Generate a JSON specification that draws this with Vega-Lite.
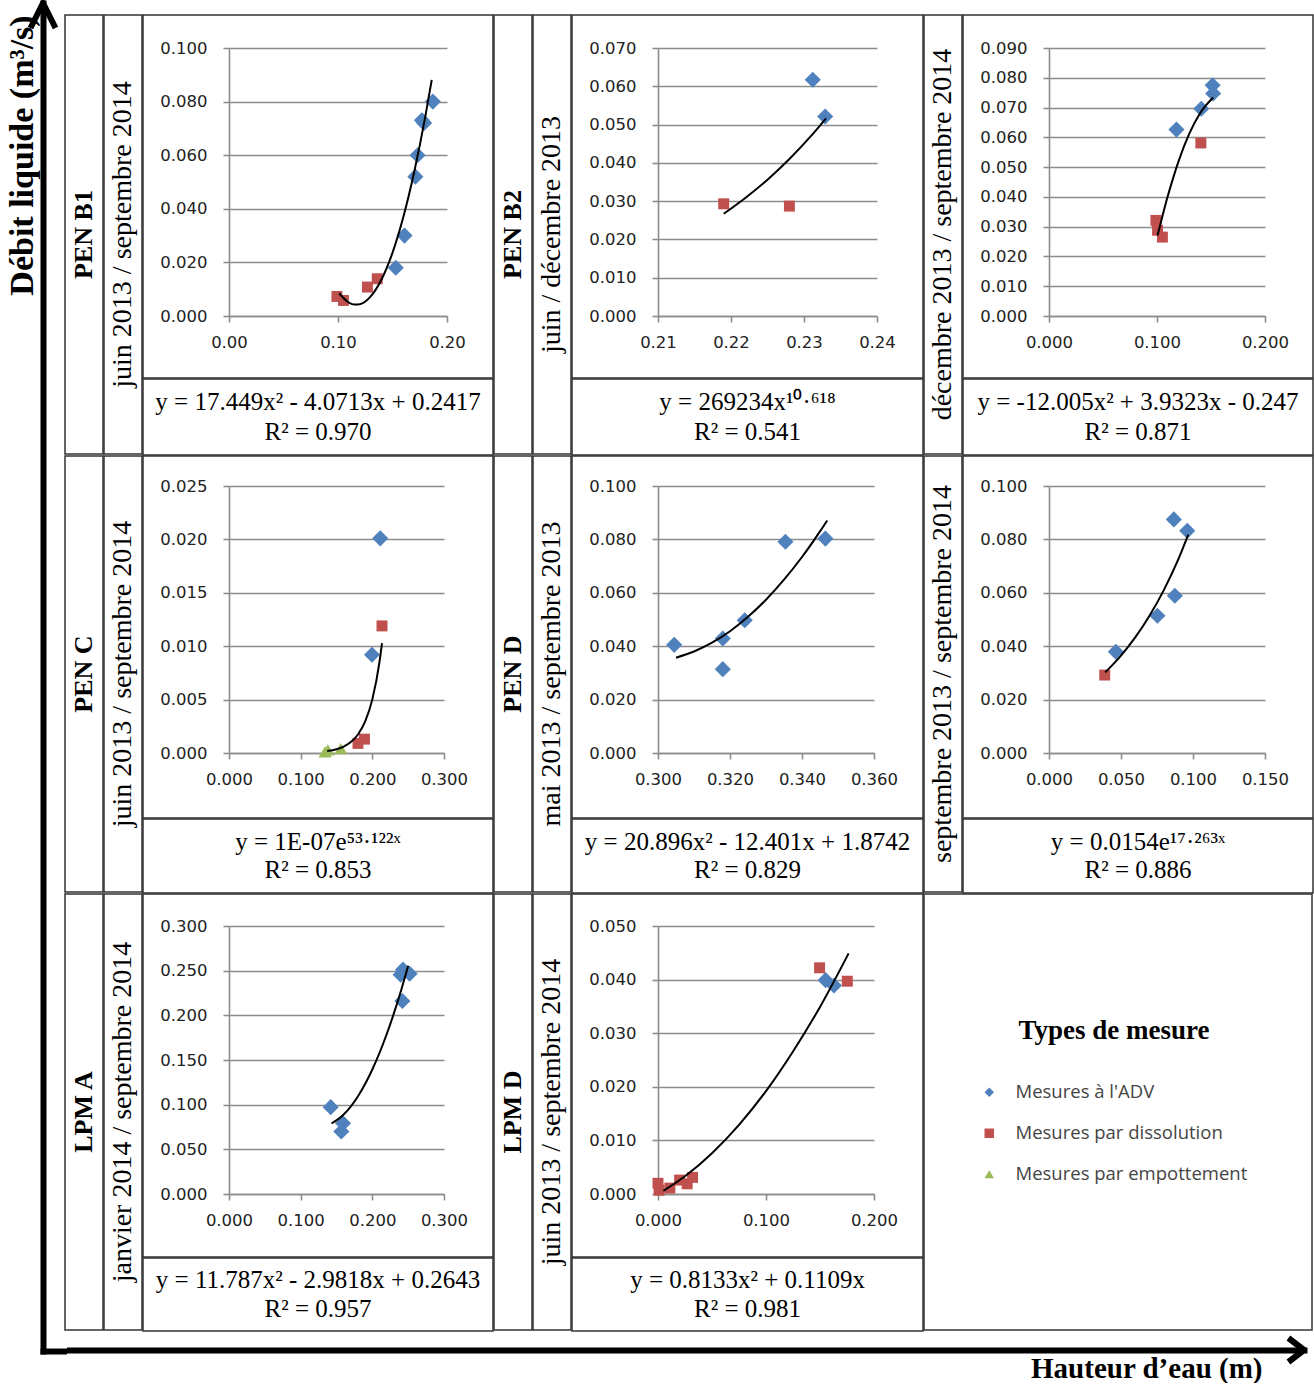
{
"$schema": "https://vega.github.io/schema/vega-lite/v6.json",
"background": "white",
"padding": {"left": 4, "top": 0, "right": 0, "bottom": 0},
"config": {
  "font": "Liberation Serif",
  "view": {"stroke": "#333333", "strokeWidth": 1.5},
  "axis": {"labelFont": "DejaVu Sans", "labelFontSize": 16.5, "labelColor": "#222222", "domainColor": "#8c8c8c", "domainWidth": 1.6, "tickColor": "#8c8c8c", "tickWidth": 1.6, "tickSize": 6, "gridColor": "#8c8c8c", "gridWidth": 1.6, "labelFlush": false, "labelOverlap": false, "labelBound": false},
  "axisX": {"grid": false, "labelPadding": 12},
  "axisY": {"grid": true, "labelPadding": 16},
  "point": {"filled": true, "opacity": 1},
  "line": {"color": "black", "strokeWidth": 2, "interpolate": "monotone"},
  "text": {"font": "Liberation Serif", "color": "black"}
},
"datasets": {
  "pts": [
    {"p":"B1","t":"Mesures à l'ADV","h":0.153,"q":0.018},
    {"p":"B1","t":"Mesures à l'ADV","h":0.161,"q":0.030},
    {"p":"B1","t":"Mesures à l'ADV","h":0.171,"q":0.052},
    {"p":"B1","t":"Mesures à l'ADV","h":0.173,"q":0.060},
    {"p":"B1","t":"Mesures à l'ADV","h":0.177,"q":0.073},
    {"p":"B1","t":"Mesures à l'ADV","h":0.179,"q":0.072},
    {"p":"B1","t":"Mesures à l'ADV","h":0.187,"q":0.080},
    {"p":"B1","t":"Mesures par dissolution","h":0.099,"q":0.0073},
    {"p":"B1","t":"Mesures par dissolution","h":0.105,"q":0.0058},
    {"p":"B1","t":"Mesures par dissolution","h":0.127,"q":0.0108},
    {"p":"B1","t":"Mesures par dissolution","h":0.136,"q":0.0139},
    {"p":"B2a","t":"Mesures à l'ADV","h":0.2312,"q":0.0617},
    {"p":"B2a","t":"Mesures à l'ADV","h":0.2329,"q":0.0521},
    {"p":"B2a","t":"Mesures par dissolution","h":0.219,"q":0.0293},
    {"p":"B2a","t":"Mesures par dissolution","h":0.228,"q":0.0287},
    {"p":"B2b","t":"Mesures à l'ADV","h":0.118,"q":0.0626},
    {"p":"B2b","t":"Mesures à l'ADV","h":0.141,"q":0.0696},
    {"p":"B2b","t":"Mesures à l'ADV","h":0.1515,"q":0.0775},
    {"p":"B2b","t":"Mesures à l'ADV","h":0.152,"q":0.0747},
    {"p":"B2b","t":"Mesures par dissolution","h":0.099,"q":0.0321},
    {"p":"B2b","t":"Mesures par dissolution","h":0.1005,"q":0.0288},
    {"p":"B2b","t":"Mesures par dissolution","h":0.105,"q":0.0265},
    {"p":"B2b","t":"Mesures par dissolution","h":0.1406,"q":0.0581},
    {"p":"C","t":"Mesures à l'ADV","h":0.211,"q":0.0201},
    {"p":"C","t":"Mesures à l'ADV","h":0.1995,"q":0.0092},
    {"p":"C","t":"Mesures par dissolution","h":0.2135,"q":0.0119},
    {"p":"C","t":"Mesures par dissolution","h":0.18,"q":0.0009},
    {"p":"C","t":"Mesures par dissolution","h":0.189,"q":0.0013},
    {"p":"C","t":"Mesures par empottement","h":0.134,"q":0.0001},
    {"p":"C","t":"Mesures par empottement","h":0.138,"q":0.0003},
    {"p":"C","t":"Mesures par empottement","h":0.156,"q":0.0004},
    {"p":"D1","t":"Mesures à l'ADV","h":0.3045,"q":0.0405},
    {"p":"D1","t":"Mesures à l'ADV","h":0.318,"q":0.0429},
    {"p":"D1","t":"Mesures à l'ADV","h":0.318,"q":0.0314},
    {"p":"D1","t":"Mesures à l'ADV","h":0.3241,"q":0.0497},
    {"p":"D1","t":"Mesures à l'ADV","h":0.3354,"q":0.0791},
    {"p":"D1","t":"Mesures à l'ADV","h":0.3465,"q":0.0803},
    {"p":"D2","t":"Mesures à l'ADV","h":0.0464,"q":0.0379},
    {"p":"D2","t":"Mesures à l'ADV","h":0.0753,"q":0.0514},
    {"p":"D2","t":"Mesures à l'ADV","h":0.0874,"q":0.0589},
    {"p":"D2","t":"Mesures à l'ADV","h":0.0867,"q":0.0875},
    {"p":"D2","t":"Mesures à l'ADV","h":0.096,"q":0.0832},
    {"p":"D2","t":"Mesures par dissolution","h":0.0387,"q":0.0292},
    {"p":"LA","t":"Mesures à l'ADV","h":0.1419,"q":0.0972},
    {"p":"LA","t":"Mesures à l'ADV","h":0.1591,"q":0.0792},
    {"p":"LA","t":"Mesures à l'ADV","h":0.1567,"q":0.0699},
    {"p":"LA","t":"Mesures à l'ADV","h":0.2395,"q":0.2455},
    {"p":"LA","t":"Mesures à l'ADV","h":0.2428,"q":0.2511},
    {"p":"LA","t":"Mesures à l'ADV","h":0.2521,"q":0.2466},
    {"p":"LA","t":"Mesures à l'ADV","h":0.2419,"q":0.216},
    {"p":"LD","t":"Mesures à l'ADV","h":0.1552,"q":0.0399},
    {"p":"LD","t":"Mesures à l'ADV","h":0.1629,"q":0.0389},
    {"p":"LD","t":"Mesures par dissolution","h":0.1496,"q":0.0422},
    {"p":"LD","t":"Mesures par dissolution","h":0.1753,"q":0.0397},
    {"p":"LD","t":"Mesures par dissolution","h":0.0,"q":0.002},
    {"p":"LD","t":"Mesures par dissolution","h":0.001,"q":0.0007},
    {"p":"LD","t":"Mesures par dissolution","h":0.011,"q":0.0011},
    {"p":"LD","t":"Mesures par dissolution","h":0.02,"q":0.0026},
    {"p":"LD","t":"Mesures par dissolution","h":0.027,"q":0.0019},
    {"p":"LD","t":"Mesures par dissolution","h":0.032,"q":0.0031}
  ],
  "fit": [
    {"p":"B1","h":0.101,"q":0.0085},{"p":"B1","h":0.11,"q":0.005},{"p":"B1","h":0.115,"q":0.00426},{"p":"B1","h":0.12,"q":0.0044},{"p":"B1","h":0.13,"q":0.0073},{"p":"B1","h":0.14,"q":0.0137},{"p":"B1","h":0.15,"q":0.0236},{"p":"B1","h":0.16,"q":0.037},{"p":"B1","h":0.17,"q":0.0539},{"p":"B1","h":0.18,"q":0.0742},{"p":"B1","h":0.186,"q":0.0881},
    {"p":"B2a","h":0.219,"q":0.0267},{"p":"B2a","h":0.222,"q":0.0309},{"p":"B2a","h":0.225,"q":0.0356},{"p":"B2a","h":0.228,"q":0.041},{"p":"B2a","h":0.231,"q":0.0471},{"p":"B2a","h":0.233,"q":0.0516},
    {"p":"B2b","h":0.1005,"q":0.027},{"p":"B2b","h":0.105,"q":0.0335},{"p":"B2b","h":0.11,"q":0.0403},{"p":"B2b","h":0.115,"q":0.0464},{"p":"B2b","h":0.12,"q":0.052},{"p":"B2b","h":0.13,"q":0.0613},{"p":"B2b","h":0.14,"q":0.0682},{"p":"B2b","h":0.152,"q":0.0734},
    {"p":"C","h":0.137,"q":0.00018},{"p":"C","h":0.15,"q":0.00035},{"p":"C","h":0.16,"q":0.0006},{"p":"C","h":0.17,"q":0.00102},{"p":"C","h":0.18,"q":0.00173},{"p":"C","h":0.19,"q":0.00295},{"p":"C","h":0.2,"q":0.00502},{"p":"C","h":0.21,"q":0.00853},{"p":"C","h":0.2135,"q":0.01029},
    {"p":"D1","h":0.305,"q":0.0357},{"p":"D1","h":0.31,"q":0.038},{"p":"D1","h":0.315,"q":0.0413},{"p":"D1","h":0.32,"q":0.0456},{"p":"D1","h":0.325,"q":0.051},{"p":"D1","h":0.33,"q":0.0574},{"p":"D1","h":0.335,"q":0.0649},{"p":"D1","h":0.34,"q":0.0734},{"p":"D1","h":0.345,"q":0.083},{"p":"D1","h":0.347,"q":0.0871},
    {"p":"D2","h":0.039,"q":0.0302},{"p":"D2","h":0.05,"q":0.0365},{"p":"D2","h":0.06,"q":0.0434},{"p":"D2","h":0.07,"q":0.0516},{"p":"D2","h":0.08,"q":0.0613},{"p":"D2","h":0.09,"q":0.0728},{"p":"D2","h":0.0967,"q":0.0818},
    {"p":"LA","h":0.143,"q":0.0789},{"p":"LA","h":0.16,"q":0.089},{"p":"LA","h":0.18,"q":0.1095},{"p":"LA","h":0.2,"q":0.1394},{"p":"LA","h":0.22,"q":0.1788},{"p":"LA","h":0.24,"q":0.2276},{"p":"LA","h":0.25,"q":0.2555},
    {"p":"LD","h":0.005,"q":0.0006},{"p":"LD","h":0.025,"q":0.0033},{"p":"LD","h":0.05,"q":0.0076},{"p":"LD","h":0.075,"q":0.0129},{"p":"LD","h":0.1,"q":0.0192},{"p":"LD","h":0.125,"q":0.0266},{"p":"LD","h":0.15,"q":0.0349},{"p":"LD","h":0.1765,"q":0.0449}
  ]
},
"spacing": 0,
"resolve": {"scale": {"color": "independent", "shape": "independent", "size": "independent"}, "legend": {"color": "independent", "shape": "independent", "size": "independent"}},
"hconcat": [
  {
    "width": 20.5, "height": 1348,
    "view": {"stroke": null},
    "data": {"values": [{"a": "axe"}]},
    "mark": {"type": "point", "shape": "M -1 2 L 0 0 L 1 2", "size": 625, "filled": false, "stroke": "black", "strokeWidth": 6, "strokeJoin": "round", "opacity": 1},
    "encoding": {
      "x": {"datum": 0, "type": "quantitative", "scale": {"domain": [0, 1]}, "axis": {"title": null, "orient": "bottom", "domainColor": "black", "domainWidth": 6, "domainCap": "square", "ticks": false, "labels": false, "grid": false}},
      "y": {"datum": 1, "type": "quantitative", "scale": {"domain": [0, 1]}, "axis": {"title": "Débit liquide (m³/s)", "orient": "left", "domainColor": "black", "domainWidth": 6, "domainCap": "square", "ticks": false, "labels": false, "grid": false, "titleFont": "Liberation Serif", "titleFontSize": 34, "titleFontWeight": "bold", "titleColor": "black", "titleY": 152, "titleAlign": "center", "titleAngle": 270, "titlePadding": 4}}
    }
  },
  {
    "spacing": -10,
    "resolve": {"scale": {"color": "independent", "shape": "independent", "size": "independent"}, "legend": {"color": "independent", "shape": "independent", "size": "independent"}},
    "vconcat": [
      {
        "spacing": -3,
        "resolve": {"scale": {"color": "independent", "shape": "independent", "size": "independent"}, "legend": {"color": "independent", "shape": "independent", "size": "independent"}},
        "vconcat": [
          {"width": 1247, "height": 11.5, "view": {"stroke": null}, "data": {"values": [{"s": ""}]}, "mark": {"type": "text"}, "encoding": {"text": {"field": "s"}}},
          {
            "spacing": -3,
            "hconcat": [
              {"width": 38, "height": 439, "data": {"values": [{"s": "PEN B1"}]}, "mark": {"type": "text", "angle": 270, "fontWeight": "bold", "fontSize": 26}, "encoding": {"text": {"field": "s"}, "x": {"field": "s", "type": "nominal", "axis": null}, "y": {"field": "s", "type": "nominal", "axis": null}}},
              {"width": 38, "height": 439, "data": {"values": [{"s": "juin 2013 / septembre 2014"}]}, "mark": {"type": "text", "angle": 270, "fontSize": 28}, "encoding": {"text": {"field": "s"}, "x": {"field": "s", "type": "nominal", "axis": null}, "y": {"field": "s", "type": "nominal", "axis": null}}},
              {"spacing": -3, "vconcat": [
                {"width": 350, "height": 363, "layer": [
                  {"data": {"name": "pts"}, "transform": [{"filter": "datum.p == 'B1'"}], "mark": "point",
                   "encoding": {
                     "x": {"field": "h", "type": "quantitative", "title": null, "scale": {"domain": [0, 0.2], "range": [86, 304], "nice": false, "zero": false}, "axis": {"values": [0, 0.1, 0.2], "format": ".2f", "offset": -62}},
                     "y": {"field": "q", "type": "quantitative", "title": null, "scale": {"domain": [0, 0.1], "range": [301, 33], "nice": false, "zero": false}, "axis": {"values": [0, 0.02, 0.04, 0.06, 0.08, 0.1], "format": ".3f", "offset": -86}},
                     "color": {"field": "t", "type": "nominal", "legend": null, "scale": {"domain": ["Mesures à l'ADV", "Mesures par dissolution", "Mesures par empottement"], "range": ["#4F81BD", "#C0504D", "#9BBB59"]}},
                     "shape": {"field": "t", "type": "nominal", "legend": null, "scale": {"domain": ["Mesures à l'ADV", "Mesures par dissolution", "Mesures par empottement"], "range": ["diamond", "square", "triangle-up"]}},
                     "size": {"field": "t", "type": "nominal", "legend": null, "scale": {"type": "ordinal", "domain": ["Mesures à l'ADV", "Mesures par dissolution", "Mesures par empottement"], "range": [260, 120, 170]}}
                   }},
                  {"data": {"name": "fit"}, "transform": [{"filter": "datum.p == 'B1'"}], "mark": "line",
                   "encoding": {"x": {"field": "h", "type": "quantitative", "title": null}, "y": {"field": "q", "type": "quantitative", "title": null}}}
                ]},
                {"width": 350, "height": 76, "data": {"values": [{"k": "1", "l": 1, "e": "y = 17.449x² - 4.0713x + 0.2417"}, {"k": "1", "l": 2, "e": "R² = 0.970"}]}, "mark": {"type": "text", "fontSize": 25}, "encoding": {"text": {"field": "e"}, "x": {"field": "k", "type": "nominal", "axis": null}, "y": {"field": "l", "type": "ordinal", "axis": null, "scale": {"padding": 0.81}}}}
              ]},
              {"width": 38, "height": 439, "data": {"values": [{"s": "PEN B2"}]}, "mark": {"type": "text", "angle": 270, "fontWeight": "bold", "fontSize": 26}, "encoding": {"text": {"field": "s"}, "x": {"field": "s", "type": "nominal", "axis": null}, "y": {"field": "s", "type": "nominal", "axis": null}}},
              {"width": 38, "height": 439, "data": {"values": [{"s": "juin / décembre 2013"}]}, "mark": {"type": "text", "angle": 270, "fontSize": 28}, "encoding": {"text": {"field": "s"}, "x": {"field": "s", "type": "nominal", "axis": null}, "y": {"field": "s", "type": "nominal", "axis": null}}},
              {"spacing": -3, "vconcat": [
                {"width": 351, "height": 363, "layer": [
                  {"data": {"name": "pts"}, "transform": [{"filter": "datum.p == 'B2a'"}], "mark": "point",
                   "encoding": {
                     "x": {"field": "h", "type": "quantitative", "title": null, "scale": {"domain": [0.21, 0.24], "range": [86, 305], "nice": false, "zero": false}, "axis": {"values": [0.21, 0.22, 0.23, 0.24], "format": ".2f", "offset": -62}},
                     "y": {"field": "q", "type": "quantitative", "title": null, "scale": {"domain": [0, 0.07], "range": [301, 33], "nice": false, "zero": false}, "axis": {"values": [0, 0.01, 0.02, 0.03, 0.04, 0.05, 0.06, 0.07], "format": ".3f", "offset": -86}},
                     "color": {"field": "t", "type": "nominal", "legend": null, "scale": {"domain": ["Mesures à l'ADV", "Mesures par dissolution", "Mesures par empottement"], "range": ["#4F81BD", "#C0504D", "#9BBB59"]}},
                     "shape": {"field": "t", "type": "nominal", "legend": null, "scale": {"domain": ["Mesures à l'ADV", "Mesures par dissolution", "Mesures par empottement"], "range": ["diamond", "square", "triangle-up"]}},
                     "size": {"field": "t", "type": "nominal", "legend": null, "scale": {"type": "ordinal", "domain": ["Mesures à l'ADV", "Mesures par dissolution", "Mesures par empottement"], "range": [260, 120, 170]}}
                   }},
                  {"data": {"name": "fit"}, "transform": [{"filter": "datum.p == 'B2a'"}], "mark": "line",
                   "encoding": {"x": {"field": "h", "type": "quantitative", "title": null}, "y": {"field": "q", "type": "quantitative", "title": null}}}
                ]},
                {"width": 351, "height": 76, "data": {"values": [{"k": "1", "l": 1, "e": "y = 269234x¹⁰·⁶¹⁸"}, {"k": "1", "l": 2, "e": "R² = 0.541"}]}, "mark": {"type": "text", "fontSize": 25}, "encoding": {"text": {"field": "e"}, "x": {"field": "k", "type": "nominal", "axis": null}, "y": {"field": "l", "type": "ordinal", "axis": null, "scale": {"padding": 0.81}}}}
              ]},
              {"width": 38, "height": 439, "data": {"values": [{"s": "décembre 2013 / septembre 2014"}]}, "mark": {"type": "text", "angle": 270, "fontSize": 28}, "encoding": {"text": {"field": "s"}, "x": {"field": "s", "type": "nominal", "axis": null}, "y": {"field": "s", "type": "nominal", "axis": null}}},
              {"spacing": -3, "vconcat": [
                {"width": 350, "height": 363, "layer": [
                  {"data": {"name": "pts"}, "transform": [{"filter": "datum.p == 'B2b'"}], "mark": "point",
                   "encoding": {
                     "x": {"field": "h", "type": "quantitative", "title": null, "scale": {"domain": [0, 0.2], "range": [86, 302], "nice": false, "zero": false}, "axis": {"values": [0, 0.1, 0.2], "format": ".3f", "offset": -62}},
                     "y": {"field": "q", "type": "quantitative", "title": null, "scale": {"domain": [0, 0.09], "range": [301, 33], "nice": false, "zero": false}, "axis": {"values": [0, 0.01, 0.02, 0.03, 0.04, 0.05, 0.06, 0.07, 0.08, 0.09], "format": ".3f", "offset": -86}},
                     "color": {"field": "t", "type": "nominal", "legend": null, "scale": {"domain": ["Mesures à l'ADV", "Mesures par dissolution", "Mesures par empottement"], "range": ["#4F81BD", "#C0504D", "#9BBB59"]}},
                     "shape": {"field": "t", "type": "nominal", "legend": null, "scale": {"domain": ["Mesures à l'ADV", "Mesures par dissolution", "Mesures par empottement"], "range": ["diamond", "square", "triangle-up"]}},
                     "size": {"field": "t", "type": "nominal", "legend": null, "scale": {"type": "ordinal", "domain": ["Mesures à l'ADV", "Mesures par dissolution", "Mesures par empottement"], "range": [260, 120, 170]}}
                   }},
                  {"data": {"name": "fit"}, "transform": [{"filter": "datum.p == 'B2b'"}], "mark": "line",
                   "encoding": {"x": {"field": "h", "type": "quantitative", "title": null}, "y": {"field": "q", "type": "quantitative", "title": null}}}
                ]},
                {"width": 350, "height": 76, "data": {"values": [{"k": "1", "l": 1, "e": "y = -12.005x² + 3.9323x - 0.247"}, {"k": "1", "l": 2, "e": "R² = 0.871"}]}, "mark": {"type": "text", "fontSize": 25}, "encoding": {"text": {"field": "e"}, "x": {"field": "k", "type": "nominal", "axis": null}, "y": {"field": "l", "type": "ordinal", "axis": null, "scale": {"padding": 0.81}}}}
              ]}
            ]
          },
          {
            "spacing": -3,
            "hconcat": [
              {"width": 38, "height": 436, "data": {"values": [{"s": "PEN C"}]}, "mark": {"type": "text", "angle": 270, "fontWeight": "bold", "fontSize": 26}, "encoding": {"text": {"field": "s"}, "x": {"field": "s", "type": "nominal", "axis": null}, "y": {"field": "s", "type": "nominal", "axis": null}}},
              {"width": 38, "height": 436, "data": {"values": [{"s": "juin 2013 / septembre 2014"}]}, "mark": {"type": "text", "angle": 270, "fontSize": 28}, "encoding": {"text": {"field": "s"}, "x": {"field": "s", "type": "nominal", "axis": null}, "y": {"field": "s", "type": "nominal", "axis": null}}},
              {"spacing": -3, "vconcat": [
                {"width": 350, "height": 362, "layer": [
                  {"data": {"name": "pts"}, "transform": [{"filter": "datum.p == 'C'"}], "mark": "point",
                   "encoding": {
                     "x": {"field": "h", "type": "quantitative", "title": null, "scale": {"domain": [0, 0.3], "range": [86, 301], "nice": false, "zero": false}, "axis": {"values": [0, 0.1, 0.2, 0.3], "format": ".3f", "offset": -65}},
                     "y": {"field": "q", "type": "quantitative", "title": null, "scale": {"domain": [0, 0.025], "range": [297, 30], "nice": false, "zero": false}, "axis": {"values": [0, 0.005, 0.01, 0.015, 0.02, 0.025], "format": ".3f", "offset": -86}},
                     "color": {"field": "t", "type": "nominal", "legend": null, "scale": {"domain": ["Mesures à l'ADV", "Mesures par dissolution", "Mesures par empottement"], "range": ["#4F81BD", "#C0504D", "#9BBB59"]}},
                     "shape": {"field": "t", "type": "nominal", "legend": null, "scale": {"domain": ["Mesures à l'ADV", "Mesures par dissolution", "Mesures par empottement"], "range": ["diamond", "square", "triangle-up"]}},
                     "size": {"field": "t", "type": "nominal", "legend": null, "scale": {"type": "ordinal", "domain": ["Mesures à l'ADV", "Mesures par dissolution", "Mesures par empottement"], "range": [260, 120, 170]}}
                   }},
                  {"data": {"name": "fit"}, "transform": [{"filter": "datum.p == 'C'"}], "mark": "line",
                   "encoding": {"x": {"field": "h", "type": "quantitative", "title": null}, "y": {"field": "q", "type": "quantitative", "title": null}}}
                ]},
                {"width": 350, "height": 74, "data": {"values": [{"k": "1", "l": 1, "e": "y = 1E-07e⁵³·¹²²ˣ"}, {"k": "1", "l": 2, "e": "R² = 0.853"}]}, "mark": {"type": "text", "fontSize": 25}, "encoding": {"text": {"field": "e"}, "x": {"field": "k", "type": "nominal", "axis": null}, "y": {"field": "l", "type": "ordinal", "axis": null, "scale": {"padding": 0.78}}}}
              ]},
              {"width": 38, "height": 436, "data": {"values": [{"s": "PEN D"}]}, "mark": {"type": "text", "angle": 270, "fontWeight": "bold", "fontSize": 26}, "encoding": {"text": {"field": "s"}, "x": {"field": "s", "type": "nominal", "axis": null}, "y": {"field": "s", "type": "nominal", "axis": null}}},
              {"width": 38, "height": 436, "data": {"values": [{"s": "mai 2013 / septembre 2013"}]}, "mark": {"type": "text", "angle": 270, "fontSize": 28}, "encoding": {"text": {"field": "s"}, "x": {"field": "s", "type": "nominal", "axis": null}, "y": {"field": "s", "type": "nominal", "axis": null}}},
              {"spacing": -3, "vconcat": [
                {"width": 351, "height": 362, "layer": [
                  {"data": {"name": "pts"}, "transform": [{"filter": "datum.p == 'D1'"}], "mark": "point",
                   "encoding": {
                     "x": {"field": "h", "type": "quantitative", "title": null, "scale": {"domain": [0.3, 0.36], "range": [86, 302], "nice": false, "zero": false}, "axis": {"values": [0.3, 0.32, 0.34, 0.36], "format": ".3f", "offset": -65}},
                     "y": {"field": "q", "type": "quantitative", "title": null, "scale": {"domain": [0, 0.1], "range": [297, 30], "nice": false, "zero": false}, "axis": {"values": [0, 0.02, 0.04, 0.06, 0.08, 0.1], "format": ".3f", "offset": -86}},
                     "color": {"field": "t", "type": "nominal", "legend": null, "scale": {"domain": ["Mesures à l'ADV", "Mesures par dissolution", "Mesures par empottement"], "range": ["#4F81BD", "#C0504D", "#9BBB59"]}},
                     "shape": {"field": "t", "type": "nominal", "legend": null, "scale": {"domain": ["Mesures à l'ADV", "Mesures par dissolution", "Mesures par empottement"], "range": ["diamond", "square", "triangle-up"]}},
                     "size": {"field": "t", "type": "nominal", "legend": null, "scale": {"type": "ordinal", "domain": ["Mesures à l'ADV", "Mesures par dissolution", "Mesures par empottement"], "range": [260, 120, 170]}}
                   }},
                  {"data": {"name": "fit"}, "transform": [{"filter": "datum.p == 'D1'"}], "mark": "line",
                   "encoding": {"x": {"field": "h", "type": "quantitative", "title": null}, "y": {"field": "q", "type": "quantitative", "title": null}}}
                ]},
                {"width": 351, "height": 74, "data": {"values": [{"k": "1", "l": 1, "e": "y = 20.896x² - 12.401x + 1.8742"}, {"k": "1", "l": 2, "e": "R² = 0.829"}]}, "mark": {"type": "text", "fontSize": 25}, "encoding": {"text": {"field": "e"}, "x": {"field": "k", "type": "nominal", "axis": null}, "y": {"field": "l", "type": "ordinal", "axis": null, "scale": {"padding": 0.78}}}}
              ]},
              {"width": 38, "height": 436, "data": {"values": [{"s": "septembre 2013 / septembre 2014"}]}, "mark": {"type": "text", "angle": 270, "fontSize": 28}, "encoding": {"text": {"field": "s"}, "x": {"field": "s", "type": "nominal", "axis": null}, "y": {"field": "s", "type": "nominal", "axis": null}}},
              {"spacing": -3, "vconcat": [
                {"width": 350, "height": 362, "layer": [
                  {"data": {"name": "pts"}, "transform": [{"filter": "datum.p == 'D2'"}], "mark": "point",
                   "encoding": {
                     "x": {"field": "h", "type": "quantitative", "title": null, "scale": {"domain": [0, 0.15], "range": [86, 302], "nice": false, "zero": false}, "axis": {"values": [0, 0.05, 0.1, 0.15], "format": ".3f", "offset": -65}},
                     "y": {"field": "q", "type": "quantitative", "title": null, "scale": {"domain": [0, 0.1], "range": [297, 30], "nice": false, "zero": false}, "axis": {"values": [0, 0.02, 0.04, 0.06, 0.08, 0.1], "format": ".3f", "offset": -86}},
                     "color": {"field": "t", "type": "nominal", "legend": null, "scale": {"domain": ["Mesures à l'ADV", "Mesures par dissolution", "Mesures par empottement"], "range": ["#4F81BD", "#C0504D", "#9BBB59"]}},
                     "shape": {"field": "t", "type": "nominal", "legend": null, "scale": {"domain": ["Mesures à l'ADV", "Mesures par dissolution", "Mesures par empottement"], "range": ["diamond", "square", "triangle-up"]}},
                     "size": {"field": "t", "type": "nominal", "legend": null, "scale": {"type": "ordinal", "domain": ["Mesures à l'ADV", "Mesures par dissolution", "Mesures par empottement"], "range": [260, 120, 170]}}
                   }},
                  {"data": {"name": "fit"}, "transform": [{"filter": "datum.p == 'D2'"}], "mark": "line",
                   "encoding": {"x": {"field": "h", "type": "quantitative", "title": null}, "y": {"field": "q", "type": "quantitative", "title": null}}}
                ]},
                {"width": 350, "height": 74, "data": {"values": [{"k": "1", "l": 1, "e": "y = 0.0154e¹⁷·²⁶³ˣ"}, {"k": "1", "l": 2, "e": "R² = 0.886"}]}, "mark": {"type": "text", "fontSize": 25}, "encoding": {"text": {"field": "e"}, "x": {"field": "k", "type": "nominal", "axis": null}, "y": {"field": "l", "type": "ordinal", "axis": null, "scale": {"padding": 0.78}}}}
              ]}
            ]
          },
          {
            "spacing": -3,
            "resolve": {"scale": {"color": "independent", "shape": "independent", "size": "independent"}, "legend": {"color": "independent", "shape": "independent", "size": "independent"}},
            "hconcat": [
              {"width": 38, "height": 436, "data": {"values": [{"s": "LPM A"}]}, "mark": {"type": "text", "angle": 270, "fontWeight": "bold", "fontSize": 26}, "encoding": {"text": {"field": "s"}, "x": {"field": "s", "type": "nominal", "axis": null}, "y": {"field": "s", "type": "nominal", "axis": null}}},
              {"width": 38, "height": 436, "data": {"values": [{"s": "janvier 2014 / septembre 2014"}]}, "mark": {"type": "text", "angle": 270, "fontSize": 28}, "encoding": {"text": {"field": "s"}, "x": {"field": "s", "type": "nominal", "axis": null}, "y": {"field": "s", "type": "nominal", "axis": null}}},
              {"spacing": -3, "vconcat": [
                {"width": 350, "height": 363, "layer": [
                  {"data": {"name": "pts"}, "transform": [{"filter": "datum.p == 'LA'"}], "mark": "point",
                   "encoding": {
                     "x": {"field": "h", "type": "quantitative", "title": null, "scale": {"domain": [0, 0.3], "range": [86, 301], "nice": false, "zero": false}, "axis": {"values": [0, 0.1, 0.2, 0.3], "format": ".3f", "offset": -63}},
                     "y": {"field": "q", "type": "quantitative", "title": null, "scale": {"domain": [0, 0.3], "range": [300, 32], "nice": false, "zero": false}, "axis": {"values": [0, 0.05, 0.1, 0.15, 0.2, 0.25, 0.3], "format": ".3f", "offset": -86}},
                     "color": {"field": "t", "type": "nominal", "legend": null, "scale": {"domain": ["Mesures à l'ADV", "Mesures par dissolution", "Mesures par empottement"], "range": ["#4F81BD", "#C0504D", "#9BBB59"]}},
                     "shape": {"field": "t", "type": "nominal", "legend": null, "scale": {"domain": ["Mesures à l'ADV", "Mesures par dissolution", "Mesures par empottement"], "range": ["diamond", "square", "triangle-up"]}},
                     "size": {"field": "t", "type": "nominal", "legend": null, "scale": {"type": "ordinal", "domain": ["Mesures à l'ADV", "Mesures par dissolution", "Mesures par empottement"], "range": [260, 120, 170]}}
                   }},
                  {"data": {"name": "fit"}, "transform": [{"filter": "datum.p == 'LA'"}], "mark": "line",
                   "encoding": {"x": {"field": "h", "type": "quantitative", "title": null}, "y": {"field": "q", "type": "quantitative", "title": null}}}
                ]},
                {"width": 350, "height": 73, "data": {"values": [{"k": "1", "l": 1, "e": "y = 11.787x² - 2.9818x + 0.2643"}, {"k": "1", "l": 2, "e": "R² = 0.957"}]}, "mark": {"type": "text", "fontSize": 25}, "encoding": {"text": {"field": "e"}, "x": {"field": "k", "type": "nominal", "axis": null}, "y": {"field": "l", "type": "ordinal", "axis": null, "scale": {"padding": 0.76}}}}
              ]},
              {"width": 38, "height": 436, "data": {"values": [{"s": "LPM D"}]}, "mark": {"type": "text", "angle": 270, "fontWeight": "bold", "fontSize": 26}, "encoding": {"text": {"field": "s"}, "x": {"field": "s", "type": "nominal", "axis": null}, "y": {"field": "s", "type": "nominal", "axis": null}}},
              {"width": 38, "height": 436, "data": {"values": [{"s": "juin 2013 / septembre 2014"}]}, "mark": {"type": "text", "angle": 270, "fontSize": 28}, "encoding": {"text": {"field": "s"}, "x": {"field": "s", "type": "nominal", "axis": null}, "y": {"field": "s", "type": "nominal", "axis": null}}},
              {"spacing": -3, "vconcat": [
                {"width": 351, "height": 363, "layer": [
                  {"data": {"name": "pts"}, "transform": [{"filter": "datum.p == 'LD'"}], "mark": "point",
                   "encoding": {
                     "x": {"field": "h", "type": "quantitative", "title": null, "scale": {"domain": [0, 0.2], "range": [86, 302], "nice": false, "zero": false}, "axis": {"values": [0, 0.1, 0.2], "format": ".3f", "offset": -63}},
                     "y": {"field": "q", "type": "quantitative", "title": null, "scale": {"domain": [0, 0.05], "range": [300, 32], "nice": false, "zero": false}, "axis": {"values": [0, 0.01, 0.02, 0.03, 0.04, 0.05], "format": ".3f", "offset": -86}},
                     "color": {"field": "t", "type": "nominal", "legend": null, "scale": {"domain": ["Mesures à l'ADV", "Mesures par dissolution", "Mesures par empottement"], "range": ["#4F81BD", "#C0504D", "#9BBB59"]}},
                     "shape": {"field": "t", "type": "nominal", "legend": null, "scale": {"domain": ["Mesures à l'ADV", "Mesures par dissolution", "Mesures par empottement"], "range": ["diamond", "square", "triangle-up"]}},
                     "size": {"field": "t", "type": "nominal", "legend": null, "scale": {"type": "ordinal", "domain": ["Mesures à l'ADV", "Mesures par dissolution", "Mesures par empottement"], "range": [260, 120, 170]}}
                   }},
                  {"data": {"name": "fit"}, "transform": [{"filter": "datum.p == 'LD'"}], "mark": "line",
                   "encoding": {"x": {"field": "h", "type": "quantitative", "title": null}, "y": {"field": "q", "type": "quantitative", "title": null}}}
                ]},
                {"width": 351, "height": 73, "data": {"values": [{"k": "1", "l": 1, "e": "y = 0.8133x² + 0.1109x"}, {"k": "1", "l": 2, "e": "R² = 0.981"}]}, "mark": {"type": "text", "fontSize": 25}, "encoding": {"text": {"field": "e"}, "x": {"field": "k", "type": "nominal", "axis": null}, "y": {"field": "l", "type": "ordinal", "axis": null, "scale": {"padding": 0.76}}}}
              ]},
              {"width": 388, "height": 436,
               "data": {"values": [{"t": "Mesures à l'ADV"}, {"t": "Mesures par dissolution"}, {"t": "Mesures par empottement"}]},
               "mark": {"type": "point", "filled": true, "opacity": 0},
               "encoding": {
                 "x": {"field": "t", "type": "nominal", "axis": null},
                 "y": {"field": "t", "type": "nominal", "axis": null},
                 "color": {"field": "t", "type": "nominal", "scale": {"domain": ["Mesures à l'ADV", "Mesures par dissolution", "Mesures par empottement"], "range": ["#4F81BD", "#C0504D", "#9BBB59"]},
                   "legend": {"orient": "none", "legendX": 56, "legendY": 124, "title": "Types de mesure", "titleLimit": 400, "titleFont": "Liberation Serif", "titleFontSize": 27, "titleFontWeight": "bold", "titleColor": "black", "titleAnchor": "middle", "titlePadding": 38, "labelFont": "Open Sans", "labelFontSize": 18.5, "labelColor": "#444444", "labelLimit": 300, "symbolSize": 90, "rowPadding": 22, "labelOffset": 17, "symbolStrokeWidth": 0, "symbolOpacity": 1}},
                 "shape": {"field": "t", "type": "nominal", "scale": {"domain": ["Mesures à l'ADV", "Mesures par dissolution", "Mesures par empottement"], "range": ["diamond", "square", "triangle-up"]},
                   "legend": {"orient": "none", "legendX": 56, "legendY": 124, "title": "Types de mesure", "titleLimit": 400, "titleFont": "Liberation Serif", "titleFontSize": 27, "titleFontWeight": "bold", "titleColor": "black", "titleAnchor": "middle", "titlePadding": 38, "labelFont": "Open Sans", "labelFontSize": 18.5, "labelColor": "#444444", "labelLimit": 300, "symbolSize": 90, "rowPadding": 22, "labelOffset": 17, "symbolStrokeWidth": 0, "symbolOpacity": 1}}
               }
              }
            ]
          }
        ]
      },
      {
        "width": 1243, "height": 18,
        "view": {"stroke": null},
        "data": {"values": [{"a": "axe"}]},
        "mark": {"type": "point", "shape": "M -1.3 -1 L 0 0 L -1.3 1", "size": 576, "filled": false, "stroke": "black", "strokeWidth": 6, "strokeJoin": "round", "opacity": 1},
        "encoding": {
          "x": {"datum": 1, "type": "quantitative", "scale": {"domain": [0, 1], "range": [4.5, 1239]}, "axis": {"title": "Hauteur d’eau (m)", "orient": "bottom", "domainColor": "black", "domainWidth": 6, "domainCap": "square", "ticks": false, "labels": false, "grid": false, "titleFont": "Liberation Serif", "titleFontSize": 29, "titleFontWeight": "bold", "titleColor": "black", "titleX": 1197, "titleAlign": "right", "titlePadding": 4}},
          "y": {"datum": 0, "type": "quantitative", "scale": {"domain": [0, 1]}, "axis": null}
        }
      }
    ]
  }
]
}
